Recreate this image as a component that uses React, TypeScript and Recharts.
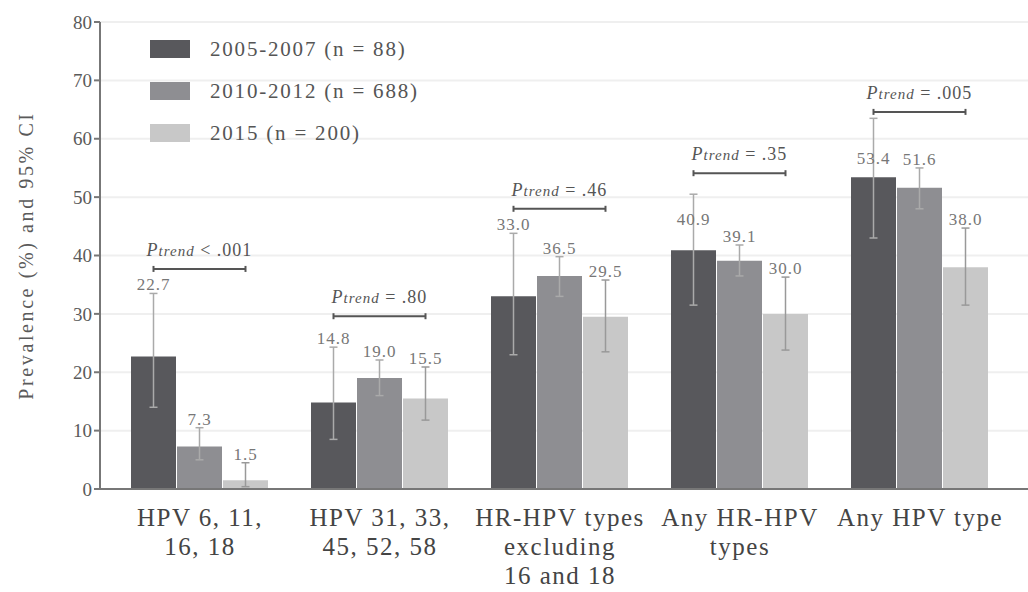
import React from 'react';
import { BarChart, Bar, XAxis, YAxis, CartesianGrid, ErrorBar, LabelList, Legend } from 'recharts';

const categories = ['HPV 6, 11, 16, 18', 'HPV 31, 33, 45, 52, 58', 'HR-HPV types excluding 16 and 18', 'Any HR-HPV types', 'Any HPV type'];
const tickLines = [
  ['HPV 6, 11,', '16, 18'],
  ['HPV 31, 33,', '45, 52, 58'],
  ['HR-HPV types', 'excluding', '16 and 18'],
  ['Any HR-HPV', 'types'],
  ['Any HPV type'],
];
const seriesNames = ['2005-2007 (n = 88)', '2010-2012 (n = 688)', '2015 (n = 200)'];
const colors = ['#58585c', '#8e8e92', '#c8c8c8'];

// prevalence and 95% CI per period
const prev1 = [22.7, 14.8, 33.0, 40.9, 53.4];
const low1 = [14.0, 8.5, 23.0, 31.5, 43.0];
const high1 = [33.5, 24.3, 43.8, 50.5, 63.5];

const prev2 = [7.3, 19.0, 36.5, 39.1, 51.6];
const low2 = [5.0, 16.0, 33.0, 36.5, 48.0];
const high2 = [10.5, 22.1, 39.8, 41.8, 55.0];

const prev3 = [1.5, 15.5, 29.5, 30.0, 38.0];
const low3 = [0.4, 11.8, 23.5, 23.8, 31.5];
const high3 = [4.5, 20.9, 35.8, 36.3, 44.7];

const trendP = ['< .001', '= .80', '= .46', '= .35', '= .005'];
const trendBracket = [37.7, 29.6, 48.0, 54.1, 64.6];

const yTicks = [0, 10, 20, 30, 40, 50, 60, 70, 80];

const FONT = '"Liberation Serif", "DejaVu Serif", serif';
const INK = '#5a5a5a';

const data = categories.map((name, i) => ({
  name,
  a: prev1[i],
  aErr: [prev1[i] - low1[i], high1[i] - prev1[i]],
  b: prev2[i],
  bErr: [prev2[i] - low2[i], high2[i] - prev2[i]],
  c: prev3[i],
  cErr: [prev3[i] - low3[i], high3[i] - prev3[i]],
}));

const valueLabel = (highs: number[]) => (props: any) => {
  const { x, y, width, height, value, index } = props;
  if (!value) return null;
  const ppu = height / value;
  const base = y + height;
  let ly = base - highs[index] * ppu - 3;
  // keep clear of the trend bracket when the whisker runs past it
  const bracketY = base - trendBracket[index] * ppu;
  if (ly < bracketY + 20) ly = bracketY + 52;
  return (
    <text x={x + width / 2} y={ly} textAnchor="middle" fontFamily={FONT} fontSize={17} letterSpacing={1} fill="#777">
      {Number(value).toFixed(1)}
    </text>
  );
};

const trendLabel = (props: any) => {
  const { x, y, width, height, value, index } = props;
  if (!value) return null;
  const ppu = height / value;
  const by = y + height - trendBracket[index] * ppu;
  const left = x - width / 2 - 1;
  const right = x + width * 1.5 + 1;
  return (
    <g>
      <line x1={left} x2={right} y1={by} y2={by} stroke="#555" strokeWidth={2} />
      <line x1={left} x2={left} y1={by - 3} y2={by + 3} stroke="#555" strokeWidth={2} />
      <line x1={right} x2={right} y1={by - 3} y2={by + 3} stroke="#555" strokeWidth={2} />
      <text x={(left + right) / 2} y={by - 13} textAnchor="middle" fontFamily={FONT} fontSize={18} letterSpacing={1} fill="#555" fontStyle="italic">
        P<tspan fontSize={15}>trend</tspan>
        <tspan fontStyle="normal">{' ' + trendP[index]}</tspan>
      </text>
    </g>
  );
};

const CategoryTick = (props: any) => {
  const { x, y, payload } = props;
  const lines = tickLines[payload.index] || [payload.value];
  return (
    <text x={x} y={y + 29} textAnchor="middle" fontFamily={FONT} fontSize={25} letterSpacing={1.5} fill="#444">
      {lines.map((l, i) => (
        <tspan key={i} x={x} dy={i === 0 ? 0 : 29}>{l}</tspan>
      ))}
    </text>
  );
};

const LegendBox = () => (
  <div style={{ fontFamily: FONT, fontSize: 21, color: '#555' }}>
    {seriesNames.map((s, i) => (
      <div key={s} style={{ display: 'flex', alignItems: 'center', height: 42 }}>
        <div style={{ width: 40, height: 18, background: colors[i], marginRight: 20 }} />
        <span style={{ letterSpacing: 1.8 }}>{s}</span>
      </div>
    ))}
  </div>
);

export default function App() {
  return (
    <div style={{ position: 'absolute', left: 0, top: 0, background: '#fff' }}>
      <BarChart
        width={1028}
        height={592}
        data={data}
        margin={{ top: 22, right: 0, bottom: 0, left: 0 }}
        barCategoryGap={21}
        barGap={1}
      >
        <CartesianGrid vertical={false} stroke="#efefef" strokeWidth={2} />
        <XAxis
          dataKey="name"
          height={103}
          padding={{ left: 10, right: 18 }}
          tickLine={false}
          axisLine={{ stroke: '#777', strokeWidth: 2 }}
          tick={<CategoryTick />}
          interval={0}
        />
        <YAxis
          width={100}
          domain={[0, 80]}
          ticks={yTicks}
          interval={0}
          tickSize={6}
          axisLine={{ stroke: '#777', strokeWidth: 2 }}
          tickLine={{ stroke: '#777', strokeWidth: 2 }}
          tick={{ fontFamily: FONT, fontSize: 19, fill: INK }}
          label={{
            value: 'Prevalence (%) and 95% CI',
            angle: -90,
            position: 'insideLeft',
            offset: 26,
            style: { textAnchor: 'middle', fontFamily: FONT, fontSize: 20, letterSpacing: 2.6, fill: INK },
          }}
        />
        <Legend
          layout="vertical"
          align="center"
          verticalAlign="middle"
          content={<LegendBox />}
          wrapperStyle={{ left: 150, top: 28, width: 340 }}
        />
        <Bar dataKey="a" fill={colors[0]} isAnimationActive={false}>
          <ErrorBar dataKey="aErr" width={4} stroke="#aaa" strokeWidth={1.5} />
          <LabelList dataKey="a" content={valueLabel(high1)} />
        </Bar>
        <Bar dataKey="b" fill={colors[1]} isAnimationActive={false}>
          <ErrorBar dataKey="bErr" width={4} stroke="#aaa" strokeWidth={1.5} />
          <LabelList dataKey="b" content={valueLabel(high2)} />
          <LabelList dataKey="b" content={trendLabel} />
        </Bar>
        <Bar dataKey="c" fill={colors[2]} isAnimationActive={false}>
          <ErrorBar dataKey="cErr" width={4} stroke="#999" strokeWidth={1.5} />
          <LabelList dataKey="c" content={valueLabel(high3)} />
        </Bar>
      </BarChart>
    </div>
  );
}
